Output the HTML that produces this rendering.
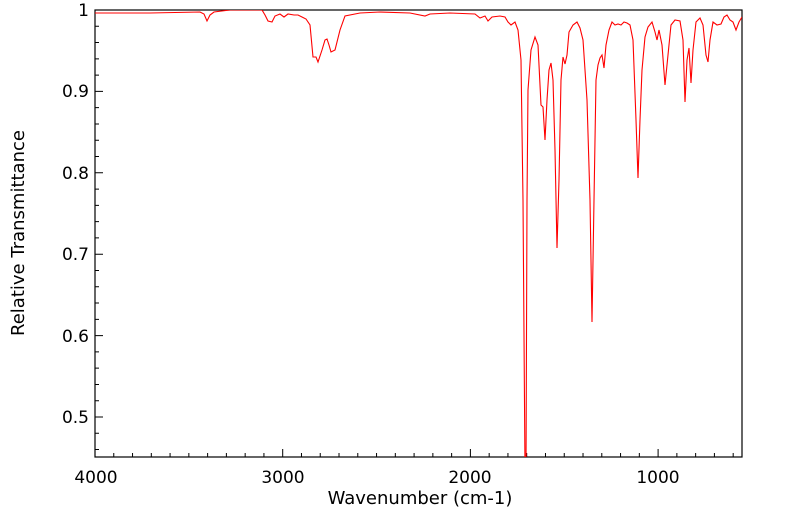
<!DOCTYPE html>
<html><head><style>body{margin:0;background:#fff}svg{display:block}</style></head><body>
<svg width="799" height="516" viewBox="0 0 799 516" xmlns="http://www.w3.org/2000/svg" font-family="DejaVu Sans, Liberation Sans, sans-serif" font-size="17">
<defs><clipPath id="c"><rect x="95" y="10" width="647" height="447"/></clipPath></defs>
<rect x="95" y="10" width="647" height="447" fill="#fff" stroke="#000" stroke-width="1.2"/>
<path stroke="#000" stroke-width="1" fill="none" d="M95,457v-8 M113.77,457v-4 M132.54,457v-4 M151.31,457v-4 M170.08,457v-4 M188.85,457v-4 M207.62,457v-4 M226.39,457v-4 M245.16,457v-4 M263.93,457v-4 M282.7,457v-8 M301.47,457v-4 M320.24,457v-4 M339.01,457v-4 M357.78,457v-4 M376.55,457v-4 M395.32,457v-4 M414.09,457v-4 M432.86,457v-4 M451.63,457v-4 M470.4,457v-8 M489.17,457v-4 M507.94,457v-4 M526.71,457v-4 M545.48,457v-4 M564.25,457v-4 M583.02,457v-4 M601.79,457v-4 M620.56,457v-4 M639.33,457v-4 M658.1,457v-8 M676.87,457v-4 M695.64,457v-4 M714.41,457v-4 M733.18,457v-4
M95,10h8 M95,26.28h4 M95,42.56h4 M95,58.84h4 M95,75.12h4 M95,91.4h8 M95,107.68h4 M95,123.96h4 M95,140.24h4 M95,156.52h4 M95,172.8h8 M95,189.08h4 M95,205.36h4 M95,221.64h4 M95,237.92h4 M95,254.2h8 M95,270.48h4 M95,286.76h4 M95,303.04h4 M95,319.32h4 M95,335.6h8 M95,351.88h4 M95,368.16h4 M95,384.44h4 M95,400.72h4 M95,417h8 M95,433.28h4 M95,449.56h4"/>
<polyline clip-path="url(#c)" fill="none" stroke="#ff0000" stroke-width="1.1" points="95,13 150,13 200,12 204,14 207,21 210,15 214,12 230,10 262,10 265,15 268,21 272,22 275,16 280,14 284,17 288,14 294,15 298,15 302,17 306,19 310,25 313,57 316,57 318,62 322,50 325,40 327,39 329,45 331,52 335,50 340,30 345,16 360,13 380,12 410,13 425,16 430,14 450,13 475,14 480,18 485,16 488,21 492,17 500,16 505,17 508,22 511,25 515,22 518,30 521,60 523,200 525,470 526,470 527,200 528,90 531,50 535,37 538,45 541,105 543,107 545,140 547,100 549,70 551,63 553,80 555,150 557,248 559,180 561,80 563,57 565,64 567,55 569,32 573,25 577,22 580,28 583,40 587,100 590,200 592,322 594,200 596,80 598,65 600,58 602,55 604,68 606,45 609,30 612,22 615,25 618,24 621,25 624,22 627,23 630,25 633,40 636,120 638,178 640,120 642,70 645,37 648,27 652,22 655,32 657,40 659,30 662,45 665,85 668,55 671,25 675,20 680,21 683,40 685,102 687,60 689,48 691,83 693,50 696,22 700,18 703,25 706,55 708,62 710,40 713,22 717,25 721,24 724,17 727,15 730,20 733,22 736,30 739,22 742,17"/>
<g text-anchor="end">
<text x="89" y="16">1</text>
<text x="89" y="97">0.9</text>
<text x="89" y="179">0.8</text>
<text x="89" y="260">0.7</text>
<text x="89" y="342">0.6</text>
<text x="89" y="423">0.5</text>
</g>
<g text-anchor="middle">
<text x="96" y="483">4000</text>
<text x="283" y="483">3000</text>
<text x="470" y="483">2000</text>
<text x="658" y="483">1000</text>
<text x="420" y="504" font-size="18">Wavenumber (cm-1)</text>
<text transform="translate(24,233) rotate(-90)" font-size="18">Relative Transmittance</text>
</g>
</svg>
</body></html>
